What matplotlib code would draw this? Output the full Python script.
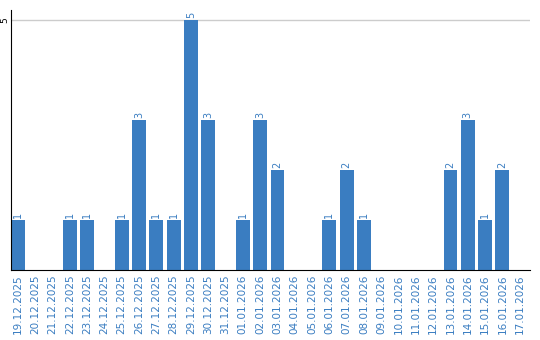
import matplotlib
matplotlib.use("Agg")
import matplotlib.pyplot as plt

dates = ["19.12.2025", "20.12.2025", "21.12.2025", "22.12.2025", "23.12.2025",
         "24.12.2025", "25.12.2025", "26.12.2025", "27.12.2025", "28.12.2025",
         "29.12.2025", "30.12.2025", "31.12.2025", "01.01.2026", "02.01.2026",
         "03.01.2026", "04.01.2026", "05.01.2026", "06.01.2026", "07.01.2026",
         "08.01.2026", "09.01.2026", "10.01.2026", "11.01.2026", "12.01.2026",
         "13.01.2026", "14.01.2026", "15.01.2026", "16.01.2026", "17.01.2026"]
counts = [1, 0, 0, 1, 1, 0, 1, 3, 1, 1, 5, 3, 0, 1, 3, 2, 0, 0, 1, 2, 1,
          0, 0, 0, 0, 2, 3, 1, 2, 0]

blue = "#3a7dc1"

fig = plt.figure(figsize=(5.4, 3.4), dpi=100)
ax = fig.add_axes([11 / 540, 70 / 340, 519 / 540, 260 / 340])

x = list(range(len(dates)))
ax.bar(x, counts, width=0.8, align="edge", color=blue, zorder=2)
for i, v in enumerate(counts):
    if v > 0:
        ax.text(i + 0.4, v + 0.04, str(v), rotation=90, ha="center", va="bottom",
                color=blue, fontsize=7)

ax.set_xlim(0, len(dates))
ax.set_ylim(0, 5.2)
ax.set_xticks([i + 0.4 for i in x])
ax.set_xticklabels(dates, rotation=90, color=blue, fontsize=7.5)
ax.set_yticks([5])
ax.set_yticklabels(["5"], rotation=90, fontsize=6.5, va="center")
ax.tick_params(axis="both", length=0, pad=3)
ax.tick_params(axis="y", pad=1)
ax.grid(axis="y", color="#cccccc", linewidth=1, zorder=0)
for s in ["top", "right"]:
    ax.spines[s].set_visible(False)
ax.spines["left"].set_color("black")
ax.spines["bottom"].set_color("black")

fig.savefig("out.png", dpi=100)
